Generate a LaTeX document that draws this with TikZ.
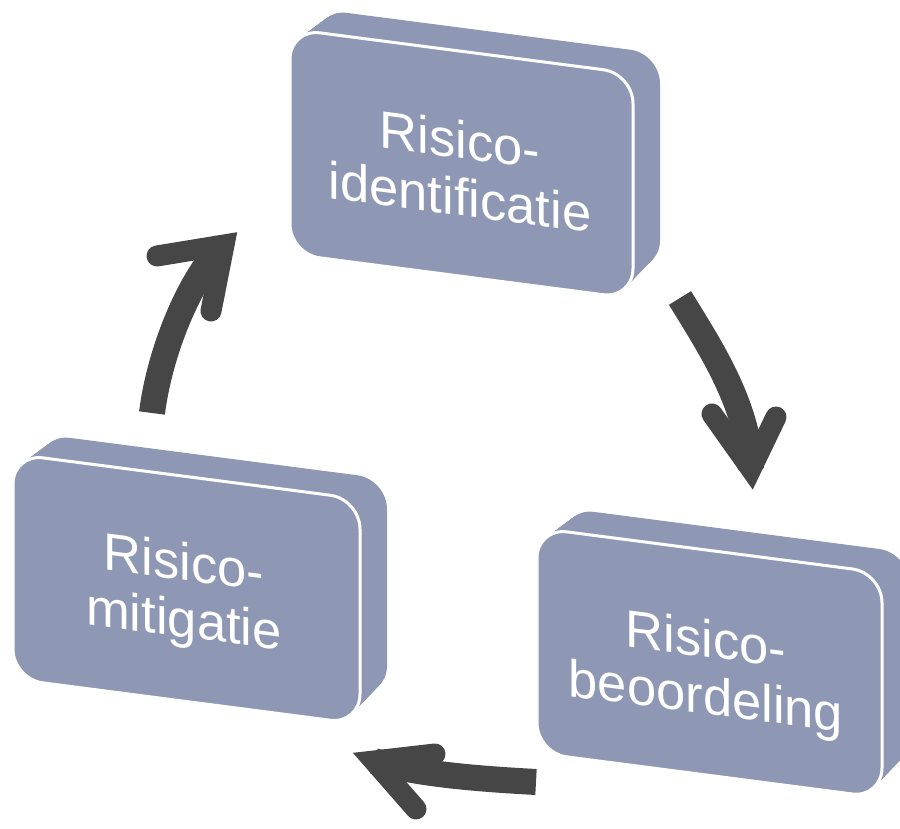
\documentclass[tikz,border=0pt]{standalone}
\usepackage{fontspec}
\setmainfont{Liberation Sans}
\definecolor{slabfill}{RGB}{142,152,180}
\definecolor{arrowgray}{RGB}{70,70,70}

% A slanted 3D slab: #1 lower-left corner, #2 width, #3 node name, #4 text position, #5 text
\newcommand\drawslab[5]{%
  \begin{scope}[shift={#1}, yslant=-0.13]
    % depth of the slab, swept from the front face to the back face
    \foreach \k [evaluate=\k as \t using \k/30] in {0,...,30}
      \fill[slabfill, rounded corners=30pt]
        (27*\t, 31.5*\t) rectangle (#2+27*\t, 225+23.5*\t);
    % front face
    \path[face, rounded corners=30pt] (0,0) rectangle (#2,225);
    \node[label] (#3) at #4 {#5};
  \end{scope}}

\begin{document}
\begin{tikzpicture}[x=1pt, y=1pt,
  face/.style={fill=slabfill, draw=white, line width=3pt},
  label/.style={text=white, align=center, inner sep=0pt, transform shape,
                font=\fontsize{52.5}{57}\selectfont},
  shaft/.style={draw=arrowgray, line width=26pt, line cap=butt},
  head/.style={draw=arrowgray, line width=21pt, line cap=round, line join=miter},
]
\useasboundingbox (0,0) rectangle (900,829);

\drawslab{(290,575)}{343}{ident}{(170,108)}{Risico-\\identificatie}
\drawslab{(13,150)}{347}{mitig}{(171,106)}{Risico-\\mitigatie}
\drawslab{(537,76)}{345}{beoord}{(169,103)}{Risico-\\beoordeling}

% arrow: mitigatie -> identificatie
\coordinate (a1s) at (152,416);
\coordinate (a1v) at (224,584);
\coordinate (a1l) at (157,573);
\coordinate (a1r) at (211,518);
\draw[shaft] (a1s) .. controls (160,480) and (192,555) .. (a1v);
\draw[head] (a1l) -- (a1v) -- (a1r);

% arrow: identificatie -> beoordeling
\coordinate (a2s) at (680,531);
\coordinate (a2v) at (751,360);
\coordinate (a2l) at (712,415);
\coordinate (a2r) at (776,412);
\draw[shaft] (a2s) .. controls (710,482) and (748,425) .. (a2v);
\draw[head] (a2l) -- (a2v) -- (a2r);

% arrow: beoordeling -> mitigatie
\coordinate (a3s) at (536,47);
\coordinate (a3v) at (374,68);
\coordinate (a3u) at (435,75);
\coordinate (a3d) at (416,20);
\draw[shaft] (a3s) .. controls (480,50) and (415,55) .. (a3v);
\draw[head] (a3u) -- (a3v) -- (a3d);
\end{tikzpicture}
\end{document}
